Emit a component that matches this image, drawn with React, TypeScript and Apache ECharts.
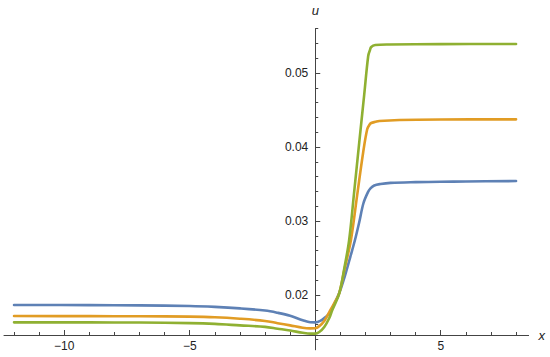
import React, { useEffect, useRef } from "react";
import * as echarts from "echarts";

const blueX = [-12, -9, -7, -5, -4, -3, -2, -1.5, -1, -0.5, -0.2, 0, 0.2, 0.4, 0.56, 0.76, 0.96, 1.2, 1.4, 1.58, 1.75, 1.92, 2.1, 2.2, 2.35, 2.6, 3, 4, 5, 6, 8];
const blueY = [0.01865, 0.01864, 0.0186, 0.01852, 0.0184, 0.0182, 0.0179, 0.0176, 0.0172, 0.0166, 0.01632, 0.0163, 0.0165, 0.017, 0.0175, 0.0188, 0.0203, 0.0228, 0.0252, 0.0274, 0.0298, 0.0324, 0.0339, 0.0344, 0.0348, 0.035, 0.03515, 0.03525, 0.0353, 0.03535, 0.0354];

const orangeX = [-12, -9, -7, -5, -4, -3, -2, -1.5, -1, -0.5, -0.2, 0, 0.16, 0.36, 0.56, 0.76, 0.96, 1.16, 1.42, 1.67, 1.91, 2.07, 2.16, 2.23, 2.4, 2.55, 3.35, 5, 8];
const orangeY = [0.01716, 0.01715, 0.01713, 0.01708, 0.017, 0.0168, 0.0165, 0.0162, 0.0159, 0.01558, 0.0155, 0.01552, 0.0158, 0.0165, 0.0177, 0.0189, 0.0203, 0.0234, 0.0274, 0.0335, 0.0393, 0.0424, 0.043, 0.04324, 0.0434, 0.04351, 0.04365, 0.04372, 0.04374];

const greenX = [-12, -9, -7, -5, -4, -3, -2, -1.5, -1, -0.5, -0.2, 0, 0.16, 0.36, 0.56, 0.68, 0.96, 1.16, 1.35, 1.55, 1.75, 1.95, 2.11, 2.18, 2.23, 2.39, 2.95, 5, 8];
const greenY = [0.01631, 0.0163, 0.01628, 0.0162, 0.0161, 0.0159, 0.0157, 0.01545, 0.0152, 0.0149, 0.01478, 0.01478, 0.015, 0.01568, 0.01689, 0.01797, 0.02027, 0.02365, 0.02743, 0.03392, 0.04054, 0.04703, 0.0523, 0.0531, 0.05351, 0.05378, 0.05385, 0.0539, 0.05392];

const xMajorTicks = [-10, -5, 5];
const xMinorTicks = [-12, -11, -9, -8, -7, -6, -4, -3, -2, -1, 1, 2, 3, 4, 6, 7, 8];
const yMajorTicks = [0.02, 0.03, 0.04, 0.05];
const yMinorTicks = [0.014, 0.016, 0.018, 0.022, 0.024, 0.026, 0.028, 0.032, 0.034, 0.036, 0.038, 0.042, 0.044, 0.046, 0.048, 0.052, 0.054, 0.056];

const X_MIN = -12.4;
const X_MAX = 8.5;
const Y_MIN = 0.0126;
const Y_MAX = 0.056;

const COLORS = ["#5E81B5", "#E19C24", "#8FB032"];
const FONT = "Liberation Sans, Arial, sans-serif";

function pairs(xs: number[], ys: number[]) {
  return xs.map((x, i) => [x, ys[i]]);
}

export default function App() {
  const ref = useRef<HTMLDivElement>(null);
  useEffect(() => {
    if (!ref.current) return;
    const chart = echarts.init(ref.current, undefined, { renderer: "svg" });
    const gridLeft = 4;
    const gridRight = 21.4;
    const gridTop = 28.6;
    const gridBottom = 7.2;
    const plotW = 550 - gridLeft - gridRight;
    const yAxisOffset = -((0 - X_MIN) / (X_MAX - X_MIN)) * plotW;
    const xAxisY = 335;
    const xAxisOffset = xAxisY - (357 - gridBottom);
    const axisColor = "#444";
    const labelColor = "#222";
    const series = [
      { name: "a", xs: blueX, ys: blueY },
      { name: "b", xs: orangeX, ys: orangeY },
      { name: "c", xs: greenX, ys: greenY },
    ].map((s, i) => ({
      type: "line" as const,
      name: s.name,
      data: pairs(s.xs, s.ys),
      xAxisIndex: 0,
      yAxisIndex: 0,
      showSymbol: false,
      smooth: 0.35,
      lineStyle: { color: COLORS[i], width: 2.6, cap: "round" as const, join: "round" as const },
      itemStyle: { color: COLORS[i] },
      z: 2 + i,
    }));
    chart.setOption({
      animation: false,
      backgroundColor: "#ffffff",
      grid: { left: gridLeft, right: gridRight, top: gridTop, bottom: gridBottom, containLabel: false },
      xAxis: [
        {
          type: "value",
          min: X_MIN,
          max: X_MAX,
          position: "bottom",
          offset: xAxisOffset,
          name: "x",
          nameLocation: "end",
          nameGap: 10,
          nameTextStyle: { fontStyle: "italic", fontSize: 13, color: labelColor, fontFamily: FONT, verticalAlign: "middle" },
          axisLine: { show: true, onZero: false, lineStyle: { color: axisColor, width: 1 } },
          axisTick: { show: true, inside: true, length: 5, customValues: xMajorTicks, lineStyle: { color: axisColor } },
          axisLabel: {
            show: true,
            customValues: xMajorTicks,
            margin: 5,
            fontSize: 12,
            color: labelColor,
            fontFamily: FONT,
            formatter: (v: number) => String(v).replace("-", "\u2212"),
          },
          splitLine: { show: false },
        },
        {
          type: "value",
          min: X_MIN,
          max: X_MAX,
          position: "bottom",
          offset: xAxisOffset,
          axisLine: { show: false, onZero: false },
          axisTick: { show: true, inside: true, length: 3, customValues: xMinorTicks, lineStyle: { color: axisColor } },
          axisLabel: { show: false },
          splitLine: { show: false },
        },
      ],
      yAxis: [
        {
          type: "value",
          min: Y_MIN,
          max: Y_MAX,
          position: "left",
          offset: yAxisOffset,
          name: "u",
          nameLocation: "end",
          nameGap: 12,
          nameTextStyle: { fontStyle: "italic", fontSize: 13, color: labelColor, fontFamily: FONT, align: "center" },
          axisLine: { show: true, onZero: false, lineStyle: { color: axisColor, width: 1 } },
          axisTick: { show: true, inside: true, length: 5, customValues: yMajorTicks, lineStyle: { color: axisColor } },
          axisLabel: {
            show: true,
            customValues: yMajorTicks,
            margin: 7,
            fontSize: 12,
            color: labelColor,
            fontFamily: FONT,
            formatter: (v: number) => v.toFixed(2),
          },
          splitLine: { show: false },
        },
        {
          type: "value",
          min: Y_MIN,
          max: Y_MAX,
          position: "left",
          offset: yAxisOffset,
          axisLine: { show: false, onZero: false },
          axisTick: { show: true, inside: true, length: 3, customValues: yMinorTicks, lineStyle: { color: axisColor } },
          axisLabel: { show: false },
          splitLine: { show: false },
        },
      ],
      series,
    });
    return () => chart.dispose();
  }, []);
  return (
    <div
      ref={ref}
      style={{ position: "fixed", left: 0, top: 0, width: 550, height: 357, background: "#fff" }}
    />
  );
}
